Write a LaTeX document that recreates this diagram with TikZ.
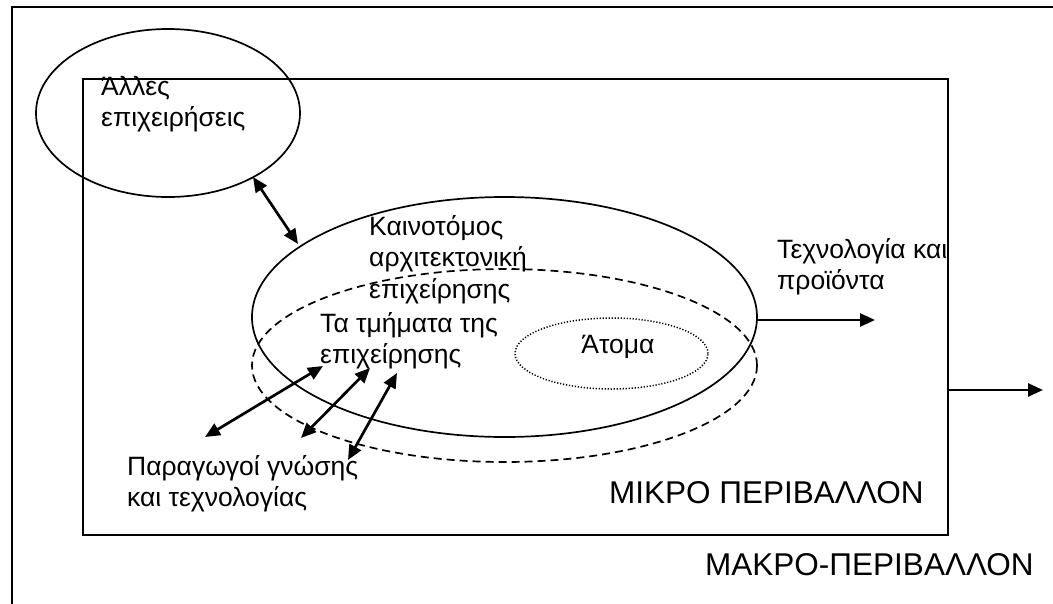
\documentclass[tikz,border=0pt]{standalone}
\usepackage{fontspec}
\setmainfont{Liberation Sans}
\usetikzlibrary{shapes.geometric,arrows.meta}
\begin{document}
\begin{tikzpicture}[x=1pt,y=-1pt,
  lbl/.style={anchor=base west, inner sep=0pt, font=\fontsize{26.5}{31.5}\selectfont},
  caplbl/.style={anchor=base west, inner sep=0pt, font=\fontsize{31.5}{36}\selectfont},
  ell/.style={ellipse, draw, line width=1.7pt, inner sep=0pt},
  frame/.style={rectangle, draw, line width=2pt, inner sep=0pt},
  dblarrow/.style={line width=2.7pt, {Triangle[length=15pt,width=13pt]}-{Triangle[length=15pt,width=13pt]}},
  onearrow/.style={line width=2.7pt, -{Triangle[length=15pt,width=13pt]}}]
\useasboundingbox (0,0) rectangle (1053,603);
\clip (0,0) rectangle (1053,603);
\fill[white] (0,0) rectangle (1053,603);
% frames
\node[frame, minimum width=1088pt, minimum height=653pt] (macro) at (556,333.5) {};
\node[frame, minimum width=865pt, minimum height=456pt] (micro) at (515.5,307) {};
% ellipses
\node[ell, minimum width=264pt, minimum height=168pt] (others) at (168,113) {};
\node[ell, minimum width=505pt, minimum height=240pt] (arch) at (504.5,317) {};
\node[ell, dash pattern=on 8pt off 5pt, minimum width=505pt, minimum height=193pt] (depts) at (504.5,365.5) {};
\node[ell, dash pattern=on 1.2pt off 1.8pt, line width=1.5pt, minimum width=193pt, minimum height=71pt] (people) at (611.5,353.5) {};
% texts
\node[lbl] (otherstxt) at (101,95) {\begin{tabular}[t]{@{}l@{}}Άλλες\\επιχειρήσεις\end{tabular}};
\node[lbl] (archtxt) at (369,235) {\begin{tabular}[t]{@{}l@{}}Καινοτόμος\\αρχιτεκτονική\\επιχείρησης\end{tabular}};
\node[lbl] (deptstxt) at (320,332) {\begin{tabular}[t]{@{}l@{}}Τα τμήματα της\\επιχείρησης\end{tabular}};
\node[lbl, anchor=base] (peopletxt) at (618,353) {Άτομα};
\node[lbl] (techtxt) at (777,258) {\begin{tabular}[t]{@{}l@{}}Τεχνολογία και\\προϊόντα\end{tabular}};
\node[lbl] (prodtxt) at (127,475) {\begin{tabular}[t]{@{}l@{}}Παραγωγοί γνώσης\\και τεχνολογίας\end{tabular}};
\node[caplbl] (microtxt) at (609,503) {ΜΙΚΡΟ ΠΕΡΙΒΑΛΛΟΝ};
\node[caplbl] (macrotxt) at (705,575) {ΜΑΚΡΟ-ΠΕΡΙΒΑΛΛΟΝ};
% arrow end points
\coordinate (o1) at (253,177);
\coordinate (o2) at (298,244);
\coordinate (a1) at (205,437);
\coordinate (a2) at (323,366);
\coordinate (b1) at (301,438);
\coordinate (b2) at (370,368);
\coordinate (c1) at (348,460);
\coordinate (c2) at (397,373);
\coordinate (t1) at (757,320);
\coordinate (t2) at (875,320);
\coordinate (m1) at (948,390);
\coordinate (m2) at (1043,390);
% arrows
\draw[dblarrow] (o1) -- (o2);
\draw[dblarrow] (a1) -- (a2);
\draw[dblarrow] (b1) -- (b2);
\draw[dblarrow] (c1) -- (c2);
\draw[onearrow] (t1) -- (t2);
\draw[onearrow] (m1) -- (m2);
\end{tikzpicture}
\end{document}
